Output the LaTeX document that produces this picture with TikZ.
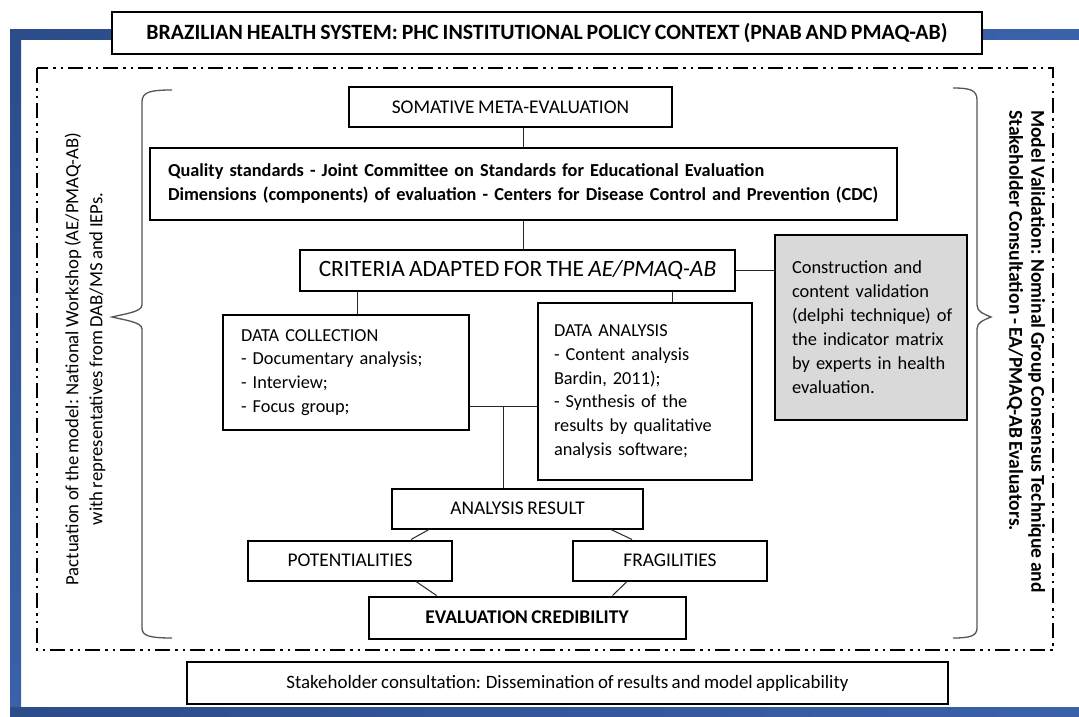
\documentclass[tikz,border=0pt]{standalone}
\usepackage{fontspec}
\setmainfont{Carlito}[WordSpace=0.8]
\usetikzlibrary{calc}
\definecolor{blueD}{HTML}{2C4C8A}
\definecolor{blueM}{HTML}{5A88D2}
\definecolor{blueR}{HTML}{3A62AA}
\definecolor{blueL}{HTML}{B8CCED}
\definecolor{grayfill}{HTML}{D9D9D9}
\definecolor{bracegray}{HTML}{555555}
\begin{document}
\begin{tikzpicture}[x=1pt,y=-1pt,
  box/.style={draw=black, line width=2pt, inner sep=0pt, fill=white},
  txtbox/.style={box, align=left},
  conn/.style={draw=black!85, line width=1pt},
  bracepath/.style={draw=bracegray, line width=1.3pt},
  f18/.style={font=\fontsize{18.3}{23.8}\selectfont},
  f19/.style={font=\fontsize{19.4}{24}\selectfont},
  f19b/.style={font=\bfseries\fontsize{19.4}{24}\selectfont}
]
\useasboundingbox (0,0) rectangle (1079,717);
\fill[white] (0,0) rectangle (1079,717);

% blue frame
\shade[top color=blueD, middle color=blueM, bottom color=blueR] (10,30) rectangle (21,717);
\shade[left color=blueD, right color=blueR] (10,30) rectangle (1079,40);
\shade[left color=blueD, middle color=blueL, right color=blueR] (10,707) rectangle (1079,717);

% dash-dot-dot frame
\draw[line width=2pt, dash pattern=on 15pt off 5pt on 2.5pt off 5pt on 2.5pt off 5pt] (37,68) rectangle (1053,650);

% title
\node[box, minimum width=870pt, minimum height=42pt, font=\bfseries\fontsize{21.8}{24}\selectfont] (title) at (547,33) {BRAZILIAN HEALTH SYSTEM: PHC INSTITUTIONAL POLICY CONTEXT (PNAB AND PMAQ-AB)};

% braces
\draw[bracepath] (172,90) .. controls (150,90) and (142,92) .. (142,102) -- (142,305)
  .. controls (142,312) and (124,314) .. (112,317) .. controls (124,320) and (142,322) .. (142,329)
  -- (142,628) .. controls (142,636) and (150,638) .. (172,638);
\draw[bracepath] (953,88) .. controls (970,88) and (977,90) .. (977,100) -- (977,305)
  .. controls (977,312) and (984,314) .. (991,317) .. controls (984,320) and (977,322) .. (977,329)
  -- (977,628) .. controls (977,636) and (970,638) .. (953,638);

% side texts
\node[rotate=90, align=center, inner sep=0pt, font=\fontsize{18.7}{24}\selectfont] (lefttxt) at (85,359)
  {Pactuation of the model: National Workshop (AE/PMAQ-AB)\\with representatives from DAB/MS and IEPs.};
\node[rotate=-90, anchor=west, align=left, inner sep=0pt, font=\bfseries\fontsize{19.6}{22}\selectfont] (righttxt) at (1026,110)
  {Model Validation: Nominal Group Consensus Technique and\\Stakeholder Consultation - EA/PMAQ-AB Evaluators.};

% main boxes
\node[box, font=\fontsize{19.4}{24}\selectfont, minimum width=323pt, minimum height=40pt] (som) at (510.5,107) {SOMATIVE META-EVALUATION};
\node[txtbox, font=\bfseries\fontsize{18.3}{24}\selectfont, minimum width=747pt, minimum height=72pt, text width=711pt, inner xsep=18pt] (qual) at (523.5,184)
  {Quality standards - Joint Committee on Standards for Educational Evaluation\\Dimensions (components) of evaluation - Centers for Disease Control and Prevention (CDC)};
\node[box, font=\fontsize{23.4}{24}\selectfont, minimum width=435pt, minimum height=41pt] (crit) at (517.5,270.5) {CRITERIA ADAPTED FOR THE \textit{AE/PMAQ-AB}};
\node[txtbox, fill=grayfill, font=\fontsize{18.4}{24}\selectfont, minimum width=192pt, minimum height=185pt, text width=158pt, inner xsep=17pt] (gray) at (871,327.5)
  {Construction and\\content validation\\\mbox{(delphi technique) of}\\the indicator matrix\\by experts in health\\evaluation.};
\node[txtbox, f18, minimum width=246pt, minimum height=115pt, text width=210pt, inner xsep=18pt] (dc) at (346,372.5)
  {DATA COLLECTION\\- Documentary analysis;\\- Interview;\\- Focus group;};
\node[txtbox, f18, minimum width=214pt, minimum height=177pt, text width=182pt, inner xsep=16pt] (da) at (645,391.5)
  {DATA ANALYSIS\\- Content analysis\\Bardin, 2011);\\- Synthesis of the\\results by qualitative\\analysis software;};
\node[box, f19, minimum width=251pt, minimum height=40pt] (ar) at (517.5,508.5) {ANALYSIS RESULT};
\node[box, f19, minimum width=204pt, minimum height=40pt] (pot) at (350,560.5) {POTENTIALITIES};
\node[box, f19, minimum width=194pt, minimum height=40pt] (frag) at (670,560.5) {FRAGILITIES};
\node[box, f19b, minimum width=317pt, minimum height=42pt] (ec) at (527,617.5) {EVALUATION CREDIBILITY};
\node[box, font=\fontsize{18.9}{24}\selectfont, minimum width=761pt, minimum height=42pt] (stake) at (567.5,683) {Stakeholder consultation: Dissemination of results and model applicability};

% connectors
\coordinate (cda) at (672,300);
\coordinate (cdc) at (357,300);
\coordinate (j) at (503,406);
\draw[conn] (som.south -| qual.north) -- (qual.north);
\draw[conn] (qual.south) -- (qual.south |- crit.north);
\draw[conn] (cdc |- crit.south) -- (cdc |- dc.north);
\draw[conn] (cda |- crit.south) -- (cda |- da.north);
\draw[conn] (crit.east) -- (crit.east -| gray.west);
\draw[conn] (dc.east |- j) -- (da.west |- j);
\draw[conn] (j) -- (j |- ar.north);
\draw[conn] ($(ar.south west)+(38,0)$) -- ($(pot.north east)+(-42,0)$);
\draw[conn] ($(ar.south east)+(-33,0)$) -- ($(frag.north west)+(60,0)$);
\draw[conn] ($(pot.south west)+(169,0)$) -- ($(ec.north west)+(69,0)$);
\draw[conn] ($(frag.south west)+(55,0)$) -- ($(ec.north east)+(-74,0)$);
\end{tikzpicture}
\end{document}
